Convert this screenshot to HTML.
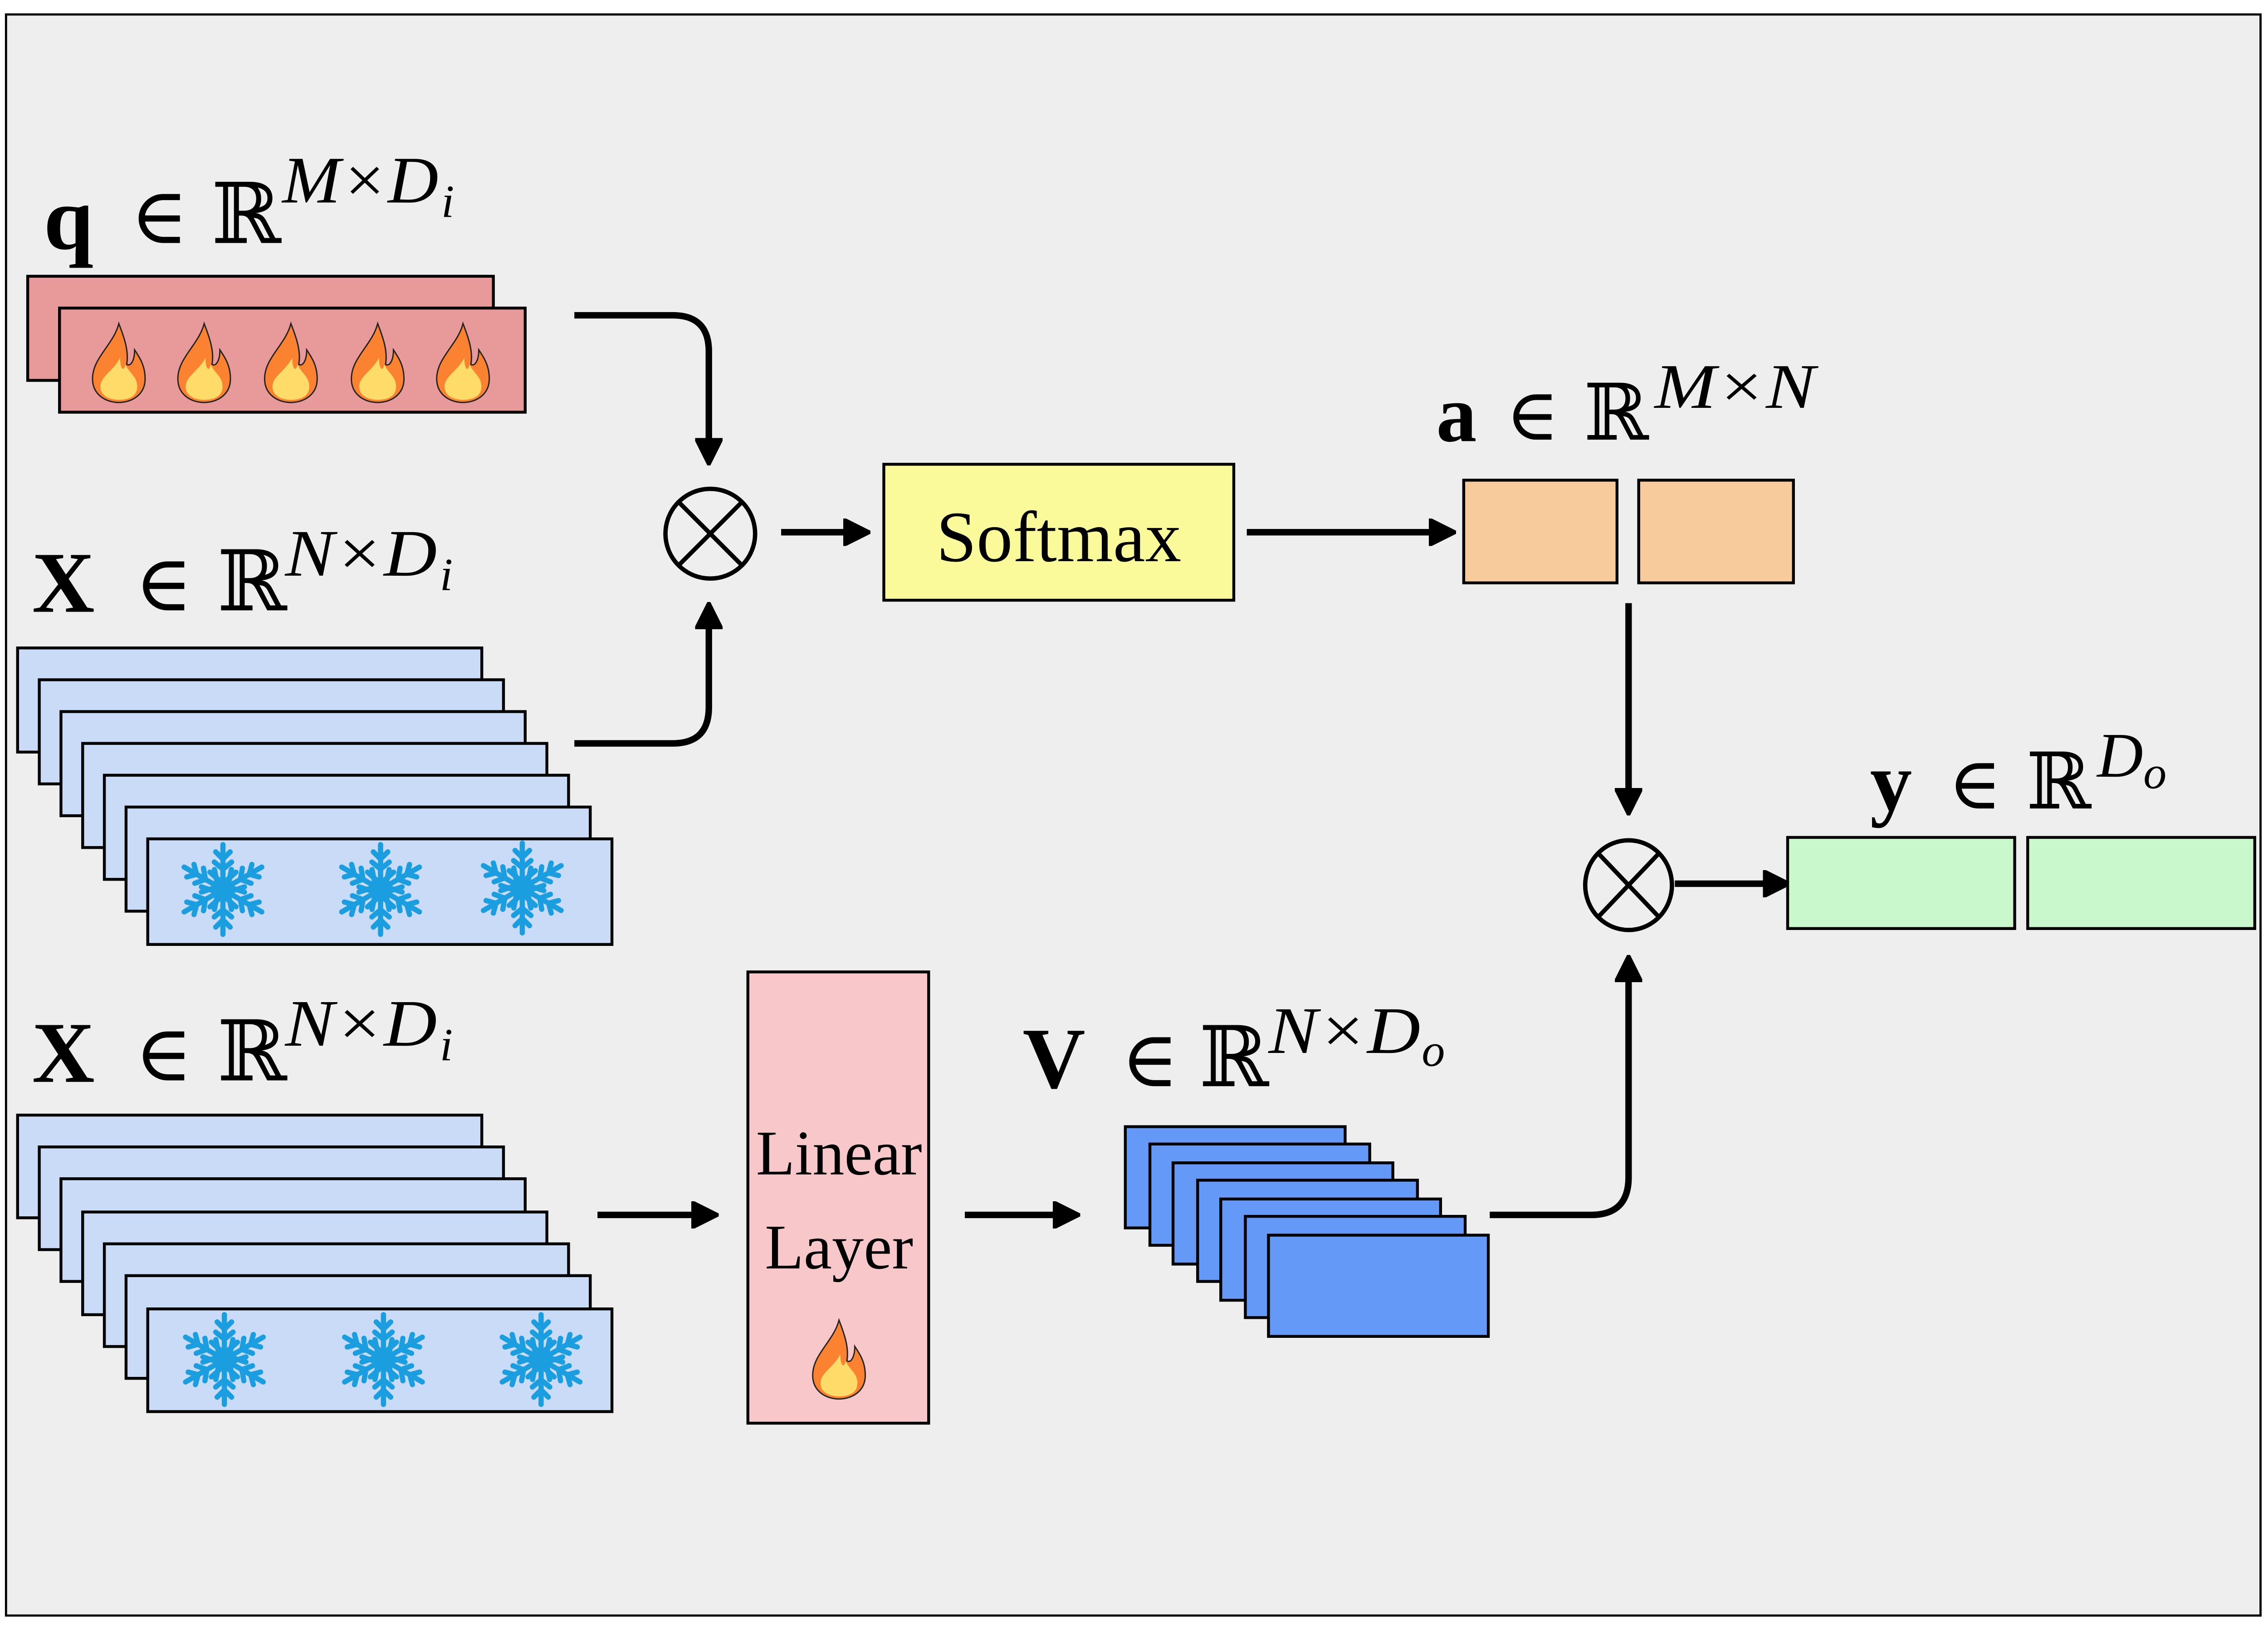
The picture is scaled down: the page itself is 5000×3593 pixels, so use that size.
<!DOCTYPE html>
<html><head><meta charset="utf-8"><style>
html,body{margin:0;padding:0;background:#fff;}
svg{display:block;}
text{font-family:"Liberation Serif","DejaVu Serif",serif;}
.b{font-weight:bold;}
.e{font-family:"DejaVu Serif",serif;font-weight:200;}
.s{font-style:italic;}
</style></head><body>
<svg width="5000" height="3593" viewBox="0 0 1568 1127" xmlns="http://www.w3.org/2000/svg">
<defs>
<symbol id="flame" viewBox="-22 -32 44 64" overflow="visible">
<path d="M0,-30 C-4,-14 -20,-4 -20,12 C-20,24 -10,30 0,30 C10,30 20,24 20,12 C20,2 16,-4 12,-10 C12,-2 9,3 6,1 C8,-10 3,-22 0,-30Z" fill="#fa8231" stroke="#222" stroke-width="1"/>
<path d="M1,-4 C-4,6 -14,10 -14,18 C-14,25 -7,28 0,28 C8,28 14,25 14,18 C14,10 8,8 5,1 C4,7 1,5 1,-4Z" fill="#ffdb6a"/>
</symbol>
<g id="arm" stroke="#1a9ee0" stroke-width="3.6" fill="none" stroke-linecap="round">
<line x1="0" y1="0" x2="0" y2="-31"/>
<polyline points="-5,-26 0,-21 5,-26"/>
<polyline points="-9,-12 0,-4 9,-12"/>
<polyline points="-6,-19 0,-14 6,-19"/>
</g>
<g id="snow">
<use href="#arm"/>
<use href="#arm" transform="rotate(60)"/>
<use href="#arm" transform="rotate(120)"/>
<use href="#arm" transform="rotate(180)"/>
<use href="#arm" transform="rotate(240)"/>
<use href="#arm" transform="rotate(300)"/>
</g>
<marker id="ah" viewBox="0 0 10 10" refX="8" refY="5" markerWidth="4.2" markerHeight="4.2" orient="auto" markerUnits="strokeWidth">
<path d="M0,0 L10,5 L0,10 Z" fill="#000" stroke="#000" stroke-linejoin="round"/>
</marker>
</defs>
<rect x="4" y="10" width="1559" height="1107" fill="#eeeeee" stroke="#000" stroke-width="1.5"/>

<!-- q label -->
<text x="30" y="172" font-size="62" class="b">q</text>
<text x="90" y="168" font-size="54" class="e">∈</text>
<text x="146" y="168" font-size="58" class="e">ℝ</text>
<text x="195" y="140" font-size="46" class="s" textLength="108" lengthAdjust="spacingAndGlyphs">M×D</text>
<text x="305" y="150" font-size="32" class="s">i</text>
<rect x="19" y="191" width="322" height="72" fill="#e8999a" stroke="#000" stroke-width="2"/>
<rect x="41" y="213" width="322" height="72" fill="#e8999a" stroke="#000" stroke-width="2"/>
<use href="#flame" x="62" y="220" width="40" height="62"/>
<use href="#flame" x="121" y="220" width="40" height="62"/>
<use href="#flame" x="181" y="220" width="40" height="62"/>
<use href="#flame" x="241" y="220" width="40" height="62"/>
<use href="#flame" x="300" y="220" width="40" height="62"/>

<!-- X1 label -->
<text x="22" y="423" font-size="60" class="b">X</text>
<text x="93" y="422" font-size="54" class="e">∈</text>
<text x="150" y="422" font-size="58" class="e">ℝ</text>
<text x="197" y="398" font-size="46" class="s" textLength="105" lengthAdjust="spacingAndGlyphs">N×D</text>
<text x="304" y="408" font-size="32" class="s">i</text>
<g fill="#c9dbf7" stroke="#000" stroke-width="2">
<rect x="12" y="448" width="321" height="72"/>
<rect x="27" y="470" width="321" height="72"/>
<rect x="42" y="492" width="321" height="72"/>
<rect x="57" y="514" width="321" height="72"/>
<rect x="72" y="536" width="321" height="72"/>
<rect x="87" y="558" width="321" height="72"/>
<rect x="102" y="580" width="321" height="73"/>
</g>
<use href="#snow" transform="translate(154,615)"/>
<use href="#snow" transform="translate(263,615)"/>
<use href="#snow" transform="translate(361,614)"/>

<!-- connectors -->
<g stroke="#000" stroke-width="4.5" fill="none">
<path d="M397,218 H465 Q490,218 490,243 V318" marker-end="url(#ah)"/>
<path d="M397,514 H465 Q490,514 490,489 V420" marker-end="url(#ah)"/>
<path d="M540,368 H598" marker-end="url(#ah)"/>
<path d="M862,368 H1003" marker-end="url(#ah)"/>
<path d="M1126,417 V560" marker-end="url(#ah)"/>
<path d="M1158,611 H1234" marker-end="url(#ah)"/>
<path d="M413,840 H493" marker-end="url(#ah)"/>
<path d="M667,840 H743" marker-end="url(#ah)"/>
<path d="M1030,840 H1100 Q1126,840 1126,814 V664" marker-end="url(#ah)"/>
</g>

<!-- otimes -->
<g stroke="#000" stroke-width="3" fill="none">
<circle cx="491" cy="369" r="31"/>
<line x1="469" y1="347" x2="513" y2="391"/><line x1="513" y1="347" x2="469" y2="391"/>
<ellipse cx="1126" cy="612" rx="30" ry="31"/>
<line x1="1105" y1="590" x2="1147" y2="634"/><line x1="1147" y1="590" x2="1105" y2="634"/>
</g>

<!-- softmax -->
<rect x="611" y="321" width="242" height="94" fill="#fafa9a" stroke="#000" stroke-width="2"/>
<text x="732" y="388" font-size="50" text-anchor="middle">Softmax</text>

<!-- a -->
<text x="993" y="305" font-size="56" class="b">a</text>
<text x="1041" y="304" font-size="50" class="e">∈</text>
<text x="1095" y="304" font-size="54" class="e">ℝ</text>
<text x="1144" y="282" font-size="44" class="s" textLength="111" lengthAdjust="spacingAndGlyphs">M×N</text>

<rect x="1012" y="332" width="106" height="71" fill="#f8cb9d" stroke="#000" stroke-width="2"/>
<rect x="1133" y="332" width="107" height="71" fill="#f8cb9d" stroke="#000" stroke-width="2"/>

<!-- y -->
<text x="1293" y="560" font-size="58" class="b">y</text>
<text x="1347" y="559" font-size="50" class="e">∈</text>
<text x="1401" y="559" font-size="54" class="e">ℝ</text>
<text x="1450" y="537" font-size="44" class="s">D</text>
<text x="1482" y="545" font-size="32" class="s">o</text>
<rect x="1236" y="579" width="157" height="63" fill="#c8f8cc" stroke="#000" stroke-width="2"/>
<rect x="1402" y="579" width="157" height="63" fill="#c8f8cc" stroke="#000" stroke-width="2"/>

<!-- X2 label -->
<text x="22" y="748" font-size="60" class="b">X</text>
<text x="93" y="747" font-size="54" class="e">∈</text>
<text x="150" y="747" font-size="58" class="e">ℝ</text>
<text x="197" y="723" font-size="46" class="s" textLength="105" lengthAdjust="spacingAndGlyphs">N×D</text>
<text x="304" y="733" font-size="32" class="s">i</text>
<g fill="#c9dbf7" stroke="#000" stroke-width="2">
<rect x="12" y="771" width="321" height="71"/>
<rect x="27" y="793" width="321" height="71"/>
<rect x="42" y="815" width="321" height="71"/>
<rect x="57" y="838" width="321" height="71"/>
<rect x="72" y="860" width="321" height="71"/>
<rect x="87" y="882" width="321" height="71"/>
<rect x="102" y="905" width="321" height="71"/>
</g>
<use href="#snow" transform="translate(155,940)"/>
<use href="#snow" transform="translate(265,940)"/>
<use href="#snow" transform="translate(374,940)"/>

<!-- linear layer -->
<rect x="517" y="672" width="125" height="312" fill="#f7c7c9" stroke="#000" stroke-width="2"/>
<text x="580" y="812" font-size="44" text-anchor="middle">Linear</text>
<text x="580" y="877" font-size="44" text-anchor="middle">Layer</text>
<use href="#flame" x="560" y="908" width="40" height="64"/>

<!-- V -->
<text x="707" y="752" font-size="60" class="b">V</text>
<text x="775" y="751" font-size="54" class="e">∈</text>
<text x="829" y="751" font-size="58" class="e">ℝ</text>
<text x="877" y="728" font-size="46" class="s" textLength="105" lengthAdjust="spacingAndGlyphs">N×D</text>
<text x="983" y="737" font-size="32" class="s">o</text>
<g fill="#6499f8" stroke="#000" stroke-width="2">
<rect x="778" y="779" width="152" height="70"/>
<rect x="795" y="791" width="152" height="70"/>
<rect x="811" y="804" width="152" height="70"/>
<rect x="828" y="816" width="152" height="70"/>
<rect x="844" y="829" width="152" height="70"/>
<rect x="861" y="841" width="152" height="70"/>
<rect x="877" y="854" width="152" height="70"/>
</g>
</svg>
</body></html>
